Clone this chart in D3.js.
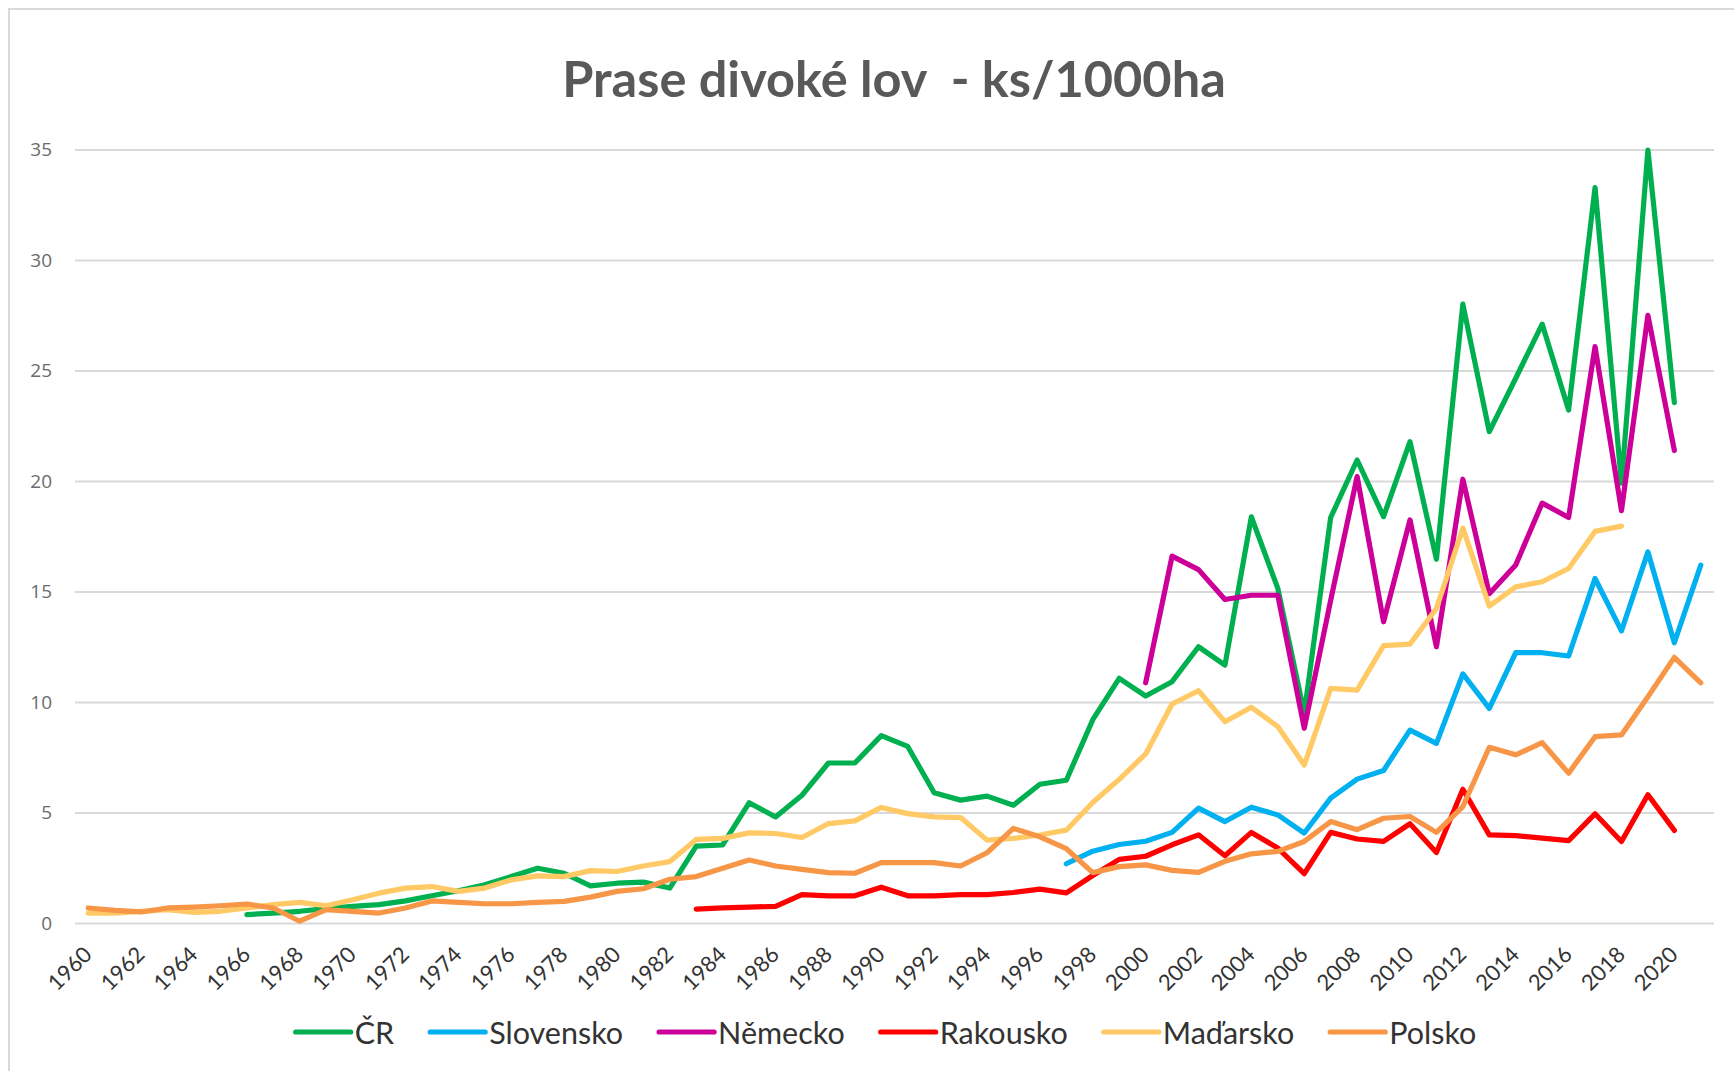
<!DOCTYPE html>
<html>
<head>
<meta charset="utf-8">
<script src="https://cdn.jsdelivr.net/npm/d3@7"></script>
<style>
  html, body { margin: 0; padding: 0; background: #ffffff; }
  svg { display: block; }
</style>
</head>
<body>
<svg id="chart" width="1734" height="1071"></svg>
<script>
// ---------- DATA ----------
const years = d3.range(1960, 2022); // 1960..2021 categories
const tickLabels = d3.range(1960, 2021, 2);
const yTicks = [0, 5, 10, 15, 20, 25, 30, 35];
const seriesNames = ["ČR", "Slovensko", "Německo", "Rakousko", "Maďarsko", "Polsko"];
const seriesColors = ["#00B050", "#00B0F0", "#CC0099", "#FF0000", "#FFC966", "#F79646"];

const _ = null;
// ČR 1960..2021
const cr = [_, _, _, _, _, _, 0.38, 0.45, 0.53, 0.65,
  0.75, 0.83, 1.0, 1.23, 1.46, 1.73, 2.1, 2.48, 2.25, 1.68,
  1.8, 1.85, 1.58, 3.48, 3.53, 5.44, 4.8, 5.78, 7.24, 7.24,
  8.48, 7.99, 5.89, 5.56, 5.74, 5.33, 6.28, 6.46, 9.2, 11.07,
  10.27, 10.92, 12.5, 11.67, 18.38, 15.14, 9.49, 18.35, 20.95, 18.39,
  21.78, 16.46, 28.0, 22.23, 24.65, 27.1, 23.21, 33.28, 19.9, 34.97,
  23.55, _];
// Slovensko
const slovensko = [_, _, _, _, _, _, _, _, _, _,
  _, _, _, _, _, _, _, _, _, _,
  _, _, _, _, _, _, _, _, _, _,
  _, _, _, _, _, _, _, 2.68, 3.25, 3.55,
  3.7, 4.1, 5.2, 4.59, 5.24, 4.89, 4.07, 5.65, 6.51, 6.9,
  8.73, 8.13, 11.27, 9.71, 12.23, 12.23, 12.08, 15.59, 13.22, 16.79,
  12.68, 16.19];
// Německo
const nemecko = [_, _, _, _, _, _, _, _, _, _,
  _, _, _, _, _, _, _, _, _, _,
  _, _, _, _, _, _, _, _, _, _,
  _, _, _, _, _, _, _, _, _, _,
  10.87, 16.6, 15.99, 14.64, 14.83, 14.83, 8.81, 14.6, 20.2, 13.63,
  18.24, 12.5, 20.08, 14.9, 16.2, 19.0, 18.35, 26.08, 18.66, 27.5,
  21.38, _];
// Rakousko
const rakousko = [_, _, _, _, _, _, _, _, _, _,
  _, _, _, _, _, _, _, _, _, _,
  _, _, _, 0.63, 0.68, 0.72, 0.75, 1.28, 1.23, 1.23,
  1.62, 1.23, 1.23, 1.28, 1.28, 1.38, 1.53, 1.36, 2.15, 2.88,
  3.02, 3.54, 3.99, 3.04, 4.1, 3.39, 2.23, 4.1, 3.8, 3.69,
  4.49, 3.19, 6.05, 3.99, 3.95, 3.84, 3.73, 4.94, 3.69, 5.8,
  4.19, _];
// Maďarsko
const madarsko = [0.45, 0.45, 0.53, 0.6, 0.48, 0.53, 0.68, 0.83, 0.93, 0.78,
  1.05, 1.35, 1.58, 1.65, 1.43, 1.58, 1.95, 2.13, 2.1, 2.37,
  2.33, 2.58, 2.78, 3.78, 3.83, 4.08, 4.05, 3.87, 4.5, 4.62,
  5.23, 4.95, 4.8, 4.77, 3.75, 3.83, 3.98, 4.2, 5.45, 6.5,
  7.65, 9.91, 10.51, 9.11, 9.76, 8.89, 7.15, 10.62, 10.54, 12.55,
  12.62, 14.23, 17.87, 14.34, 15.21, 15.44, 16.04, 17.72, 17.96, _,
  _, _];
// Polsko
const polsko = [0.68, 0.57, 0.5, 0.68, 0.72, 0.78, 0.86, 0.68, 0.08, 0.6,
  0.53, 0.45, 0.68, 1.0, 0.93, 0.87, 0.87, 0.93, 0.98, 1.17,
  1.43, 1.55, 1.98, 2.1, 2.48, 2.85, 2.58, 2.43, 2.28, 2.25,
  2.73, 2.73, 2.73, 2.58, 3.18, 4.28, 3.9, 3.36, 2.28, 2.55,
  2.63, 2.38, 2.29, 2.79, 3.13, 3.24, 3.69, 4.59, 4.22, 4.74,
  4.82, 4.1, 5.27, 7.95, 7.61, 8.16, 6.78, 8.43, 8.51, 10.24,
  12.02, 10.87];

const seriesValues = [cr, slovensko, nemecko, rakousko, madarsko, polsko];

// ---------- LAYOUT ----------
const svg = d3.select("#chart");
const plot = { left: 75, right: 1714, top: 149.5, bottom: 923 };
const font = "Lato, 'Open Sans', sans-serif";

// chart frame (cropped at right/bottom in the reference)
svg.append("rect")
  .attr("x", 9).attr("y", 9).attr("width", 1800).attr("height", 1200)
  .attr("fill", "#ffffff").attr("stroke", "#d9d9d9").attr("stroke-width", 2);

const x = d3.scaleBand().domain(years).range([plot.left, plot.right]).padding(0);
const y = d3.scaleLinear().domain([0, 35]).range([plot.bottom, plot.top]);
const cx = yr => x(yr) + x.bandwidth() / 2;

// title
svg.append("text")
  .attr("x", 894).attr("y", 97)
  .attr("text-anchor", "middle")
  .style("white-space", "pre")
  .attr("font-family", font).attr("font-weight", 700).attr("font-size", 50.5)
  .attr("fill", "#595959")
  .text("Prase divoké lov  - ks/1000ha");

// gridlines + y labels via axis
const yAxis = d3.axisLeft(y).tickValues(yTicks).tickSize(-(plot.right - plot.left)).tickPadding(23);
const gy = svg.append("g").attr("transform", `translate(${plot.left},0)`).call(yAxis);
gy.select(".domain").remove();
gy.selectAll(".tick line").attr("stroke", "#d9d9d9").attr("stroke-width", 2);
gy.selectAll(".tick text")
  .attr("font-family", "'Open Sans', sans-serif").attr("font-size", 19)
  .attr("fill", "#6b6b6b");

// x axis labels
const xAxis = d3.axisBottom(x).tickValues(tickLabels).tickSize(0).tickPadding(0);
const gx = svg.append("g").attr("transform", `translate(0,${plot.bottom})`).call(xAxis);
gx.select(".domain").remove();
gx.selectAll(".tick text")
  .attr("font-family", font).attr("font-size", 22).attr("fill", "#333333")
  .attr("text-anchor", "end")
  .attr("y", 0).attr("dy", 0)
  .attr("transform", "translate(5,33) rotate(-45)");

// lines
const line = d3.line()
  .defined(d => d.v !== null)
  .x(d => cx(d.yr))
  .y(d => y(d.v));

seriesValues.forEach((vals, i) => {
  const pts = years.map((yr, j) => ({ yr, v: vals[j] }));
  svg.append("path")
    .datum(pts)
    .attr("d", line)
    .attr("fill", "none")
    .attr("stroke", seriesColors[i])
    .attr("stroke-width", 5.2)
    .attr("stroke-linejoin", "round")
    .attr("stroke-linecap", "round");
});

// legend
const legY = 1032;
const legend = svg.append("g");
const items = seriesNames.map((name, i) => {
  const g = legend.append("g");
  g.append("line").attr("x1", 0).attr("x2", 55).attr("y1", legY).attr("y2", legY)
    .attr("stroke", seriesColors[i]).attr("stroke-width", 5.2).attr("stroke-linecap", "round");
  const t = g.append("text").attr("x", 59).attr("y", legY)
    .attr("dominant-baseline", "central")
    .attr("font-family", font).attr("font-size", 30.5).attr("fill", "#333333")
    .text(name);
  return { g, w: 59 + t.node().getComputedTextLength() };
});
const gap = 36;
const total = d3.sum(items, d => d.w) + gap * (items.length - 1);
let lx = 886 - total / 2;
items.forEach(it => {
  it.g.attr("transform", `translate(${lx},0)`);
  lx += it.w + gap;
});
</script>
</body>
</html>
